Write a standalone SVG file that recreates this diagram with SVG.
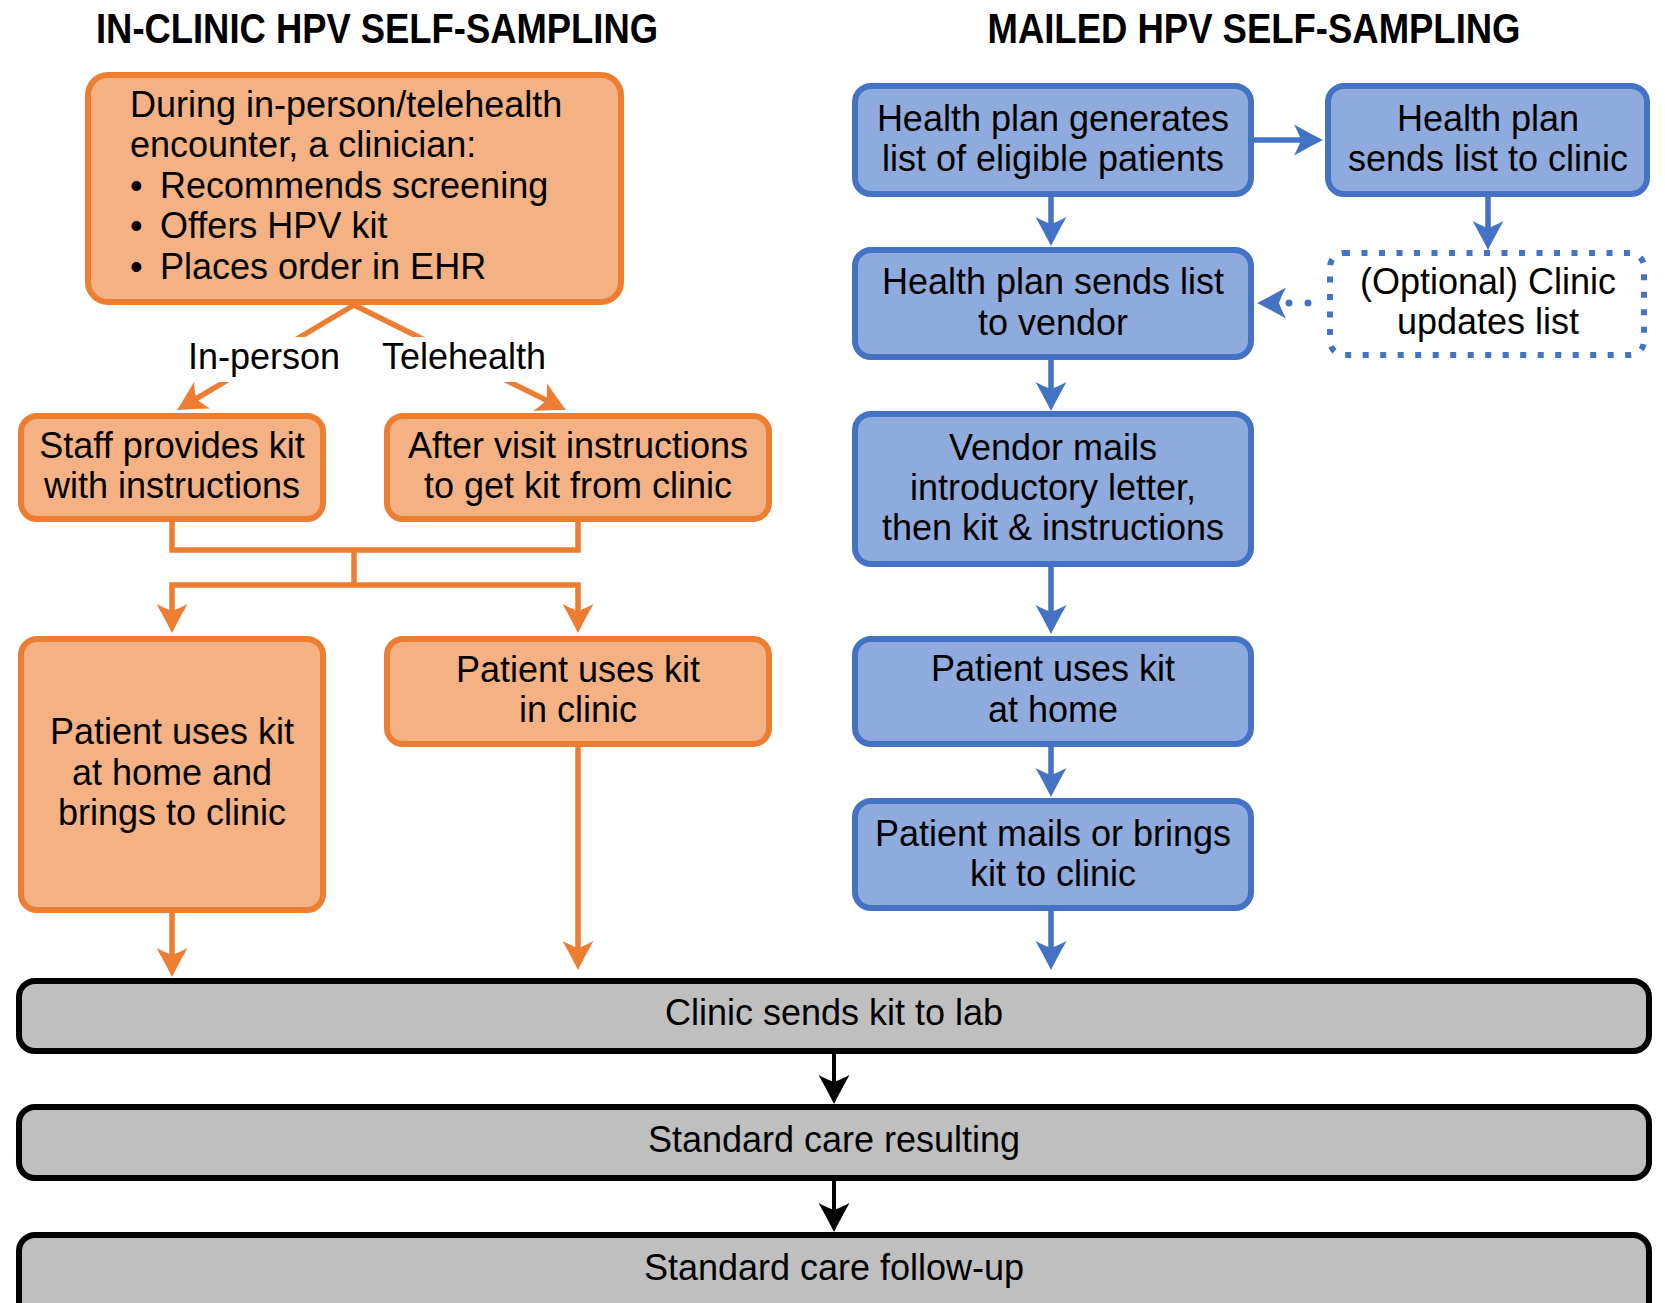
<svg xmlns="http://www.w3.org/2000/svg" width="1665" height="1303" viewBox="0 0 1665 1303">
<style>
text{font-family:"Liberation Sans",Arial,sans-serif;font-size:36px;fill:#000}
.t{font-weight:bold;font-size:43px}
.c{text-anchor:middle}
.o{fill:#F4B183;stroke:#ED7D31;stroke-width:6}
.b{fill:#8FAADC;stroke:#4472C4;stroke-width:6}
.g{fill:#BFBFBF;stroke:#000;stroke-width:6}
.d{fill:#fff;stroke:#4472C4;stroke-width:6;stroke-dasharray:6 11.5}
.lo{fill:none;stroke:#ED7D31;stroke-width:5.5}
.lb{fill:none;stroke:#4472C4;stroke-width:5.5}
.lk{fill:none;stroke:#000;stroke-width:4}
</style>
<defs>
<marker id="ao" markerUnits="userSpaceOnUse" viewBox="-30 -16 31 32" refX="-15" refY="0" markerWidth="31" markerHeight="32" orient="auto" overflow="visible"><path d="M0,0 Q-13,-6.5 -29,-15.5 Q-24,-6 -22,0 Q-24,6 -29,15.5 Q-13,6.5 0,0 Z" fill="#ED7D31"/></marker>
<marker id="ab" markerUnits="userSpaceOnUse" viewBox="-30 -16 31 32" refX="-15" refY="0" markerWidth="31" markerHeight="32" orient="auto" overflow="visible"><path d="M0,0 Q-13,-6.5 -29,-15.5 Q-24,-6 -22,0 Q-24,6 -29,15.5 Q-13,6.5 0,0 Z" fill="#4472C4"/></marker>
<marker id="ak" markerUnits="userSpaceOnUse" viewBox="-30 -16 31 32" refX="-15" refY="0" markerWidth="31" markerHeight="32" orient="auto" overflow="visible"><path d="M0,0 Q-13,-6.5 -29,-15.5 Q-24,-6 -22,0 Q-24,6 -29,15.5 Q-13,6.5 0,0 Z" fill="#000"/></marker>
</defs>
<rect width="1665" height="1303" fill="#fff"/>
<g id="titles">
<text class="t c" x="377" y="43" textLength="562" lengthAdjust="spacingAndGlyphs">IN-CLINIC HPV SELF-SAMPLING</text>
<text class="t c" x="1254" y="43" textLength="533" lengthAdjust="spacingAndGlyphs">MAILED HPV SELF-SAMPLING</text>
</g>
<g id="connectors">
<path class="lo" d="M354,305 L190,402.3" marker-end="url(#ao)"/>
<path class="lo" d="M354,305 L552.6,403.3" marker-end="url(#ao)"/>
<path class="lo" d="M172,522 V550 H578 V522"/>
<path class="lo" d="M354,550 V585"/>
<path class="lo" d="M354,585 H172 V618" marker-end="url(#ao)"/>
<path class="lo" d="M354,585 H578 V618" marker-end="url(#ao)"/>
<path class="lo" d="M172,913 V962" marker-end="url(#ao)"/>
<path class="lo" d="M578,747 V955" marker-end="url(#ao)"/>
<path class="lb" d="M1254,140 H1308" marker-end="url(#ab)"/>
<path class="lb" d="M1051,197 V231" marker-end="url(#ab)"/>
<path class="lb" d="M1488,197 V235" marker-end="url(#ab)"/>
<path class="lb" d="M1051,360 V396" marker-end="url(#ab)"/>
<path class="lb" d="M1051,567 V619" marker-end="url(#ab)"/>
<path class="lb" d="M1051,747 V782" marker-end="url(#ab)"/>
<path class="lb" d="M1051,911 V955" marker-end="url(#ab)"/>
<path fill="none" stroke="#4472C4" stroke-width="7" stroke-linecap="round" stroke-dasharray="0 19" d="M1308,303 H1272" marker-end="url(#ab)"/>
<path class="lk" d="M834,1052 V1089" marker-end="url(#ak)"/>
<path class="lk" d="M834,1180 V1217" marker-end="url(#ak)"/>
<rect x="180" y="337" width="165" height="45" fill="#fff"/>
<rect x="375" y="337" width="180" height="45" fill="#fff"/>
<text x="188" y="369">In-person</text>
<text x="382" y="369">Telehealth</text>
</g>
<g id="encounter">
<rect class="o" x="88" y="75" width="533" height="227" rx="20"/>
<text x="130" y="117">During in-person/telehealth</text>
<text x="130" y="157">encounter, a clinician:</text>
<text x="130" y="198">•<tspan x="160">Recommends screening</tspan></text>
<text x="130" y="238">•<tspan x="160">Offers HPV kit</tspan></text>
<text x="130" y="279">•<tspan x="160">Places order in EHR</tspan></text>
</g>
<g id="staff">
<rect class="o" x="21" y="416" width="302" height="103" rx="16"/>
<text class="c" x="172" y="458">Staff provides kit</text>
<text class="c" x="172" y="498">with instructions</text>
</g>
<g id="aftervisit">
<rect class="o" x="387" y="416" width="382" height="103" rx="16"/>
<text class="c" x="578" y="458">After visit instructions</text>
<text class="c" x="578" y="498">to get kit from clinic</text>
</g>
<g id="home-brings">
<rect class="o" x="21" y="639" width="302" height="271" rx="16"/>
<text class="c" x="172" y="744">Patient uses kit</text>
<text class="c" x="172" y="785">at home and</text>
<text class="c" x="172" y="825">brings to clinic</text>
</g>
<g id="in-clinic">
<rect class="o" x="387" y="639" width="382" height="105" rx="16"/>
<text class="c" x="578" y="682">Patient uses kit</text>
<text class="c" x="578" y="722">in clinic</text>
</g>
<g id="generates">
<rect class="b" x="855" y="86" width="396" height="108" rx="16"/>
<text class="c" x="1053" y="131">Health plan generates</text>
<text class="c" x="1053" y="171">list of eligible patients</text>
</g>
<g id="to-clinic">
<rect class="b" x="1328" y="86" width="319" height="108" rx="16"/>
<text class="c" x="1488" y="131">Health plan</text>
<text class="c" x="1488" y="171">sends list to clinic</text>
</g>
<g id="to-vendor">
<rect class="b" x="855" y="250" width="396" height="107" rx="16"/>
<text class="c" x="1053" y="294">Health plan sends list</text>
<text class="c" x="1053" y="335">to vendor</text>
</g>
<g id="optional">
<rect class="d" x="1330" y="253" width="314" height="102" rx="14"/>
<text class="c" x="1488" y="294">(Optional) Clinic</text>
<text class="c" x="1488" y="334">updates list</text>
</g>
<g id="vendor-mails">
<rect class="b" x="855" y="414" width="396" height="150" rx="16"/>
<text class="c" x="1053" y="460">Vendor mails</text>
<text class="c" x="1053" y="500">introductory letter,</text>
<text class="c" x="1053" y="540">then kit &amp; instructions</text>
</g>
<g id="home">
<rect class="b" x="855" y="639" width="396" height="105" rx="16"/>
<text class="c" x="1053" y="681">Patient uses kit</text>
<text class="c" x="1053" y="722">at home</text>
</g>
<g id="mails">
<rect class="b" x="855" y="801" width="396" height="107" rx="16"/>
<text class="c" x="1053" y="846">Patient mails or brings</text>
<text class="c" x="1053" y="886">kit to clinic</text>
</g>
<g id="lab">
<rect class="g" x="19" y="981" width="1630" height="70" rx="16"/>
<text class="c" x="834" y="1025">Clinic sends kit to lab</text>
</g>
<g id="resulting">
<rect class="g" x="19" y="1107" width="1630" height="71" rx="16"/>
<text class="c" x="834" y="1152">Standard care resulting</text>
</g>
<g id="followup">
<rect class="g" x="19" y="1235" width="1630" height="90" rx="16"/>
<text class="c" x="834" y="1280">Standard care follow-up</text>
</g>
</svg>
